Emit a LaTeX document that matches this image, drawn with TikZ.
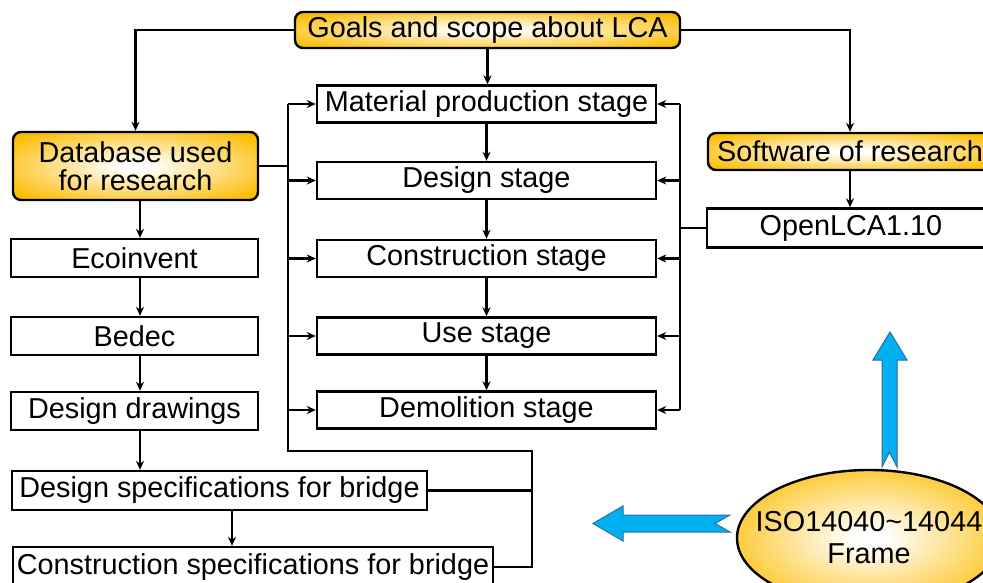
\documentclass[tikz,border=0pt]{standalone}
\usepackage{fontspec}
\setmainfont{Liberation Sans}
\usetikzlibrary{arrows.meta,shapes.geometric,calc}
\definecolor{goldc}{RGB}{252,188,0}
\definecolor{skyc}{RGB}{0,176,240}
\definecolor{skyedge}{RGB}{40,110,160}
\pgfdeclareradialshading{goldglow}{\pgfpoint{0bp}{0bp}}{color(0bp)=(white); color(3bp)=(white); color(32bp)=(goldc); color(100bp)=(goldc)}

\begin{document}
\begin{tikzpicture}[x=1pt,y=-1pt,
  every node/.style={font=\fontsize{28.8}{30}\selectfont, inner sep=0pt},
  plain/.style={draw, line width=2.4pt, fill=white},
  gold/.style={draw, line width=2.4pt, rounded corners=8pt, shading=goldglow},
  conn/.style={line width=2.2pt},
  arr/.style={conn, -{Stealth[length=9pt,width=8pt]}},
  bigarrow/.style={fill=skyc, draw=skyedge, line width=1pt, line join=miter}]

\useasboundingbox (0,0) rectangle (983,583);
\clip (0,0) rectangle (983,583);
\fill[white] (0,0) rectangle (983,583);

% top goal
\node[gold, minimum width=385pt, minimum height=36pt] (goals) at (487.5,30) {Goals and scope about LCA};

% life cycle stages
\node[plain, minimum width=339pt, minimum height=37pt] (mat)    at (486.5,104)   {Material production stage};
\node[plain, minimum width=339pt, minimum height=37pt] (design) at (486.5,180.5) {Design stage};
\node[plain, minimum width=339pt, minimum height=37pt] (cons)   at (486.5,258.5) {Construction stage};
\node[plain, minimum width=339pt, minimum height=37pt] (use)    at (486.5,336)   {Use stage};
\node[plain, minimum width=339pt, minimum height=37pt] (demo)   at (486.5,410)   {Demolition stage};

% data sources
\node[gold, minimum width=245pt, minimum height=68pt, align=center,
      font=\fontsize{28.8}{28}\selectfont] (db) at (135.5,166) {Database used\\for research};
\node[plain, minimum width=247pt, minimum height=38pt] (eco)   at (134.5,258) {Ecoinvent};
\node[plain, minimum width=247pt, minimum height=38pt] (bedec) at (134.5,336) {Bedec};
\node[plain, minimum width=247pt, minimum height=38pt] (ddraw) at (134.5,411) {Design drawings};
\node[plain, minimum width=415pt, minimum height=39pt] (dspec) at (219.5,490.5) {Design specifications for bridge};
\node[plain, minimum width=480pt, minimum height=40pt] (cspec) at (253,567) {Construction specifications for bridge};

% software
\node[gold, minimum width=284pt, minimum height=37pt] (soft) at (850,151.5) {Software of research};
\node[plain, minimum width=288pt, minimum height=39pt] (olca) at (851,228) {OpenLCA1.10};

% framework: the text boxes are kept narrow so the ellipse keeps its own size
\node[ellipse, draw, line width=2.4pt, shading=goldglow, minimum width=264pt, minimum height=136pt,
      align=center, font=\fontsize{28.8}{32}\selectfont] (iso) at (869,538)
      {\makebox[150pt][c]{ISO14040\textasciitilde14044}\\\makebox[150pt][c]{Frame}};

% bus and column positions
\coordinate (lbus) at (288,451);
\coordinate (sbus) at (532,451);
\coordinate (rbus) at (680,0);
\coordinate (lcol) at (140,0);
\coordinate (scol) at (232,0);

% from the goal
\draw[arr] (goals.west) -| (db.north);
\draw[arr] (goals.east) -| (soft.north);
\draw[arr] (goals.south) -- (goals.south |- mat.north);

% stage chain
\draw[arr] (mat.south)    -- (mat.south |- design.north);
\draw[arr] (design.south) -- (design.south |- cons.north);
\draw[arr] (cons.south)   -- (cons.south |- use.north);
\draw[arr] (use.south)    -- (use.south |- demo.north);

% left bus feeding the stages
\draw[conn] (db.east) -- (db.east -| lbus);
\draw[conn] (mat.west -| lbus) -- (lbus) -- (sbus) -- (sbus |- cspec.east) -- (cspec.east);
\draw[conn] (dspec.east) -- (dspec.east -| sbus);
\foreach \n in {mat,design,cons,use,demo}
  \draw[arr] (\n.west -| lbus) -- (\n.west);

% right bus feeding the stages
\draw[conn] (mat.east -| rbus) -- (demo.east -| rbus);
\draw[conn] (olca.west) -- (olca.west -| rbus);
\foreach \n in {mat,design,cons,use,demo}
  \draw[arr] (\n.east -| rbus) -- (\n.east);

% data source chain
\draw[arr] (db.south -| lcol)    -- (eco.north -| lcol);
\draw[arr] (eco.south -| lcol)   -- (bedec.north -| lcol);
\draw[arr] (bedec.south -| lcol) -- (ddraw.north -| lcol);
\draw[arr] (ddraw.south -| lcol) -- (dspec.north -| lcol);
\draw[arr] (dspec.south -| scol) -- (cspec.north -| scol);

% software chain
\draw[arr] (soft.south) -- (soft.south |- olca.north);

% block arrows out of the framework
\draw[bigarrow] (882,467) -- (882,360) -- (873,360) -- (890,332) -- (907,360)
  -- (897,360) -- (897,467) -- (889.5,452) -- cycle;
\draw[bigarrow] (730,515) -- (623,515) -- (623,506) -- (593,523.5) -- (623,541)
  -- (623,532) -- (730,532) -- (715,523.5) -- cycle;
\end{tikzpicture}
\end{document}
